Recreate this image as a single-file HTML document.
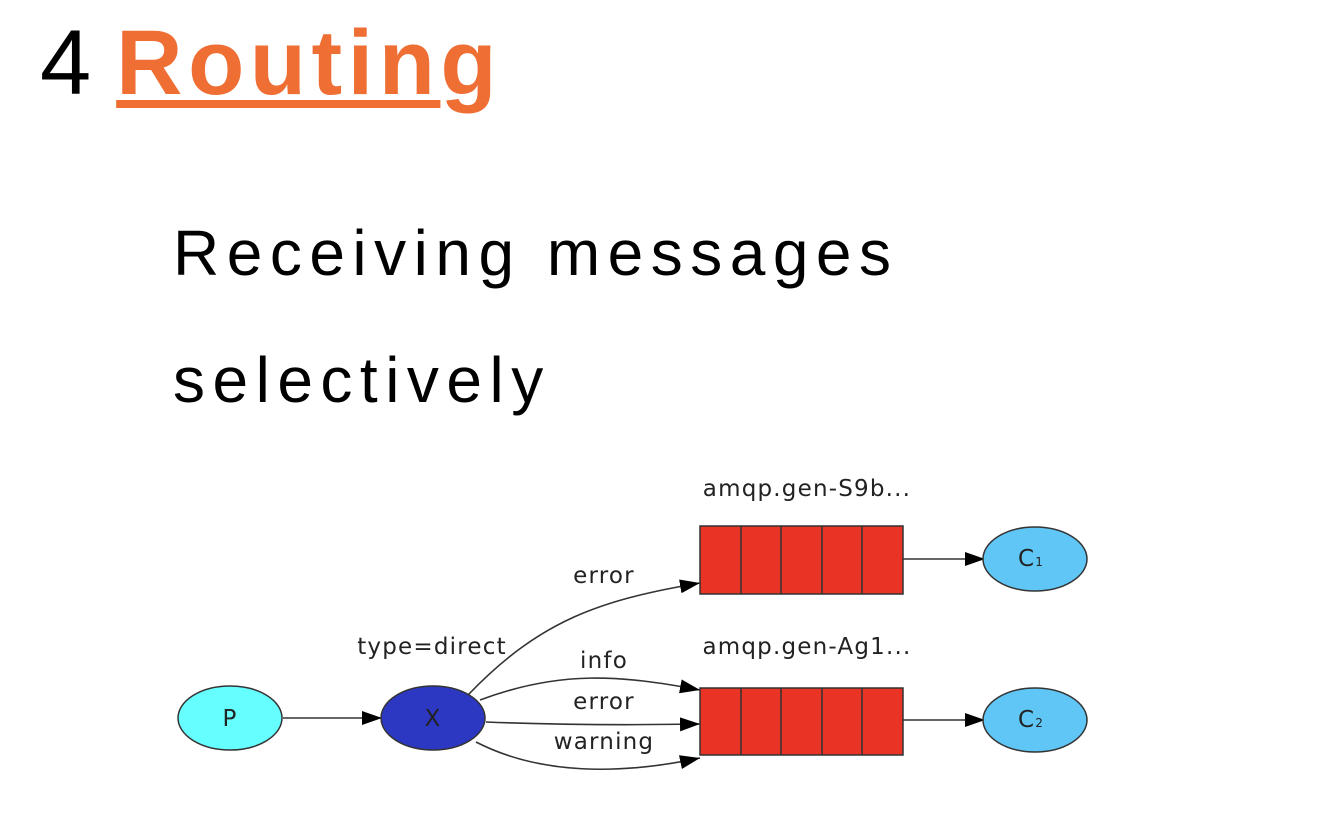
<!DOCTYPE html>
<html><head><style>
body{margin:0;width:1334px;height:840px;background:#fff;overflow:hidden;position:relative;font-family:"Liberation Sans",sans-serif}
.t{position:absolute;left:40px;top:8px;font-size:92px;line-height:110px;color:#000}
.t b{color:#ee6e34;letter-spacing:5.5px;margin-left:25px;text-decoration:underline;text-decoration-thickness:8px;text-underline-offset:6px}
.t b span{letter-spacing:0}
.s{position:absolute;left:173px;font-size:64px;color:#000;line-height:70px;letter-spacing:7.5px}
</style></head><body>
<div class="t">4<b>Routin<span>g</span></b></div>
<div class="s" style="top:218px">Receiving messages</div>
<div class="s" style="top:345px">selectively</div>
<svg width="1334" height="840" style="position:absolute;left:0;top:0" font-family="DejaVu Sans, sans-serif" font-size="23" letter-spacing="1.2">
<defs><marker id="b" markerWidth="20" markerHeight="14" refX="20" refY="7" orient="auto" markerUnits="userSpaceOnUse"><path d="M0,0L20,7L0,14z" fill="#000"/></marker></defs>
<g stroke="#333" stroke-width="1.6" fill="none">
<path d="M283,718H382" marker-end="url(#b)"/>
<path d="M468,695C540,620 600,600 700,583" marker-end="url(#b)"/>
<path d="M480,700C560,670 620,675 700,690" marker-end="url(#b)"/>
<path d="M486,722C560,725 640,725 700,724" marker-end="url(#b)"/>
<path d="M476,742C540,775 620,775 700,758" marker-end="url(#b)"/>
<path d="M903,559H985" marker-end="url(#b)"/>
<path d="M903,720H985" marker-end="url(#b)"/>
</g>
<ellipse cx="230" cy="718" rx="52" ry="32" fill="#6ff" stroke="#333" stroke-width="1.5"/>
<ellipse cx="433" cy="718" rx="52" ry="32" fill="#2d38c2" stroke="#333" stroke-width="1.5"/>
<ellipse cx="1035" cy="559" rx="52" ry="32" fill="#5fc6f5" stroke="#333" stroke-width="1.5"/>
<ellipse cx="1035" cy="720" rx="52" ry="32" fill="#5fc6f5" stroke="#333" stroke-width="1.5"/>
<g fill="#e83325" stroke="#333" stroke-width="1.5">
<rect x="700" y="526" width="203" height="68"/><rect x="700" y="688" width="203" height="67"/></g>
<g stroke="#333" stroke-width="1.5">
<path d="M741,526V594M781,526V594M822,526V594M862,526V594M741,688V755M781,688V755M822,688V755M862,688V755"/></g>
<g fill="#222" text-anchor="middle">
<text x="230" y="726">P</text><text x="433" y="726">X</text>
<text x="1031" y="566">C<tspan font-size="12">1</tspan></text>
<text x="1031" y="727">C<tspan font-size="12">2</tspan></text>
<text x="807" y="496">amqp.gen-S9b...</text>
<text x="807" y="654">amqp.gen-Ag1...</text>
<text x="604" y="583">error</text>
<text x="432" y="654">type=direct</text>
<text x="604" y="668">info</text>
<text x="604" y="709">error</text>
<text x="604" y="749">warning</text>
</g>
</svg>
</body></html>
